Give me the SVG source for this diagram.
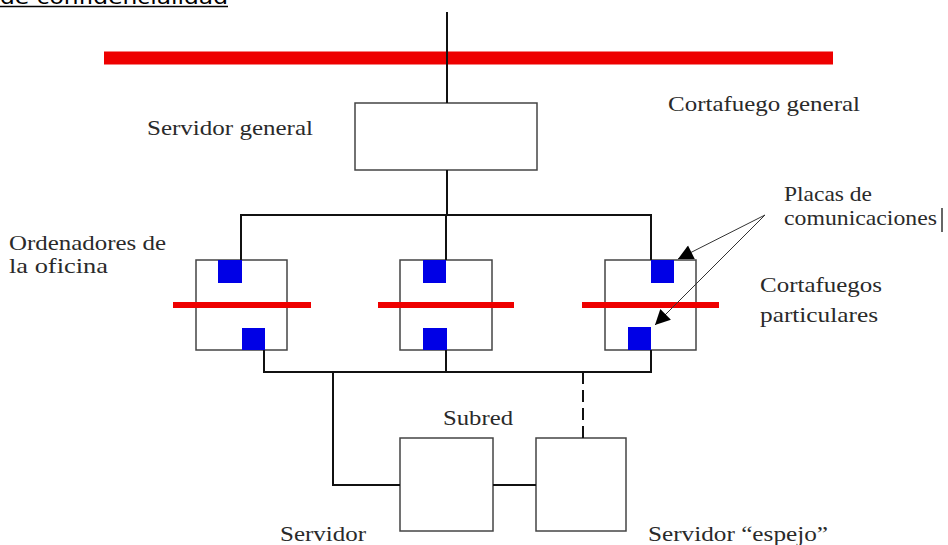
<svg xmlns="http://www.w3.org/2000/svg" width="948" height="545" viewBox="0 0 948 545">
<style>
.lbl{font-family:"Liberation Serif","Times New Roman",serif;font-size:22px;fill:#2a2a2a}
.box{fill:#fff;stroke:#444;stroke-width:1.5}
.wire{fill:none;stroke:#111;stroke-width:2}
.fw{stroke:#ee0000;stroke-linecap:butt}
.card{fill:#0000e6}
.ptr{fill:none;stroke:#333;stroke-width:1}
</style>
<defs>
<marker id="ah" viewBox="0 0 10 10" refX="10" refY="5" markerWidth="17" markerHeight="15" markerUnits="userSpaceOnUse" orient="auto">
<path d="M0,0 L10,5 L0,10 Z" fill="#000"/>
</marker>
</defs>
<rect width="948" height="545" fill="#fff"/>
<g id="title">
<text x="0" y="4" font-family="DejaVu Sans,Verdana,sans-serif" font-size="19" fill="#000" textLength="228" lengthAdjust="spacingAndGlyphs">de confidencialidad</text>
<line x1="0" y1="6.5" x2="228" y2="6.5" stroke="#000" stroke-width="1.5"/>
</g>
<g id="cortafuego-general">
<line class="fw" x1="104" y1="58" x2="833" y2="58" stroke-width="13"/>
<text class="lbl" x="668" y="111" textLength="192" lengthAdjust="spacingAndGlyphs">Cortafuego general</text>
</g>
<g id="servidor-general">
<rect class="box" x="355" y="103" width="182" height="67"/>
<text class="lbl" x="147" y="135" textLength="166" lengthAdjust="spacingAndGlyphs">Servidor general</text>
</g>
<g id="ordenador-1">
<rect class="box" x="196" y="260" width="91" height="90"/>
<line class="fw" x1="173" y1="305" x2="311" y2="305" stroke-width="6"/>
<rect class="card" x="218" y="260" width="24" height="23"/>
<rect class="card" x="242" y="328" width="23" height="22"/>
</g>
<g id="ordenador-2">
<rect class="box" x="400" y="260" width="92" height="90"/>
<line class="fw" x1="378" y1="305" x2="514" y2="305" stroke-width="6"/>
<rect class="card" x="423" y="260" width="23" height="23"/>
<rect class="card" x="423" y="328" width="24" height="22"/>
</g>
<g id="ordenador-3">
<rect class="box" x="605" y="260" width="91" height="90"/>
<line class="fw" x1="582" y1="305" x2="719" y2="305" stroke-width="6"/>
<rect class="card" x="651" y="260" width="23" height="23"/>
<rect class="card" x="628" y="327" width="23" height="23"/>
</g>
<g id="ordenadores-label">
<text class="lbl" x="9" y="250" textLength="157" lengthAdjust="spacingAndGlyphs">Ordenadores de</text>
<text class="lbl" x="9" y="273" textLength="99" lengthAdjust="spacingAndGlyphs">la oficina</text>
</g>
<g id="placas-label">
<text class="lbl" x="784" y="201" textLength="88" lengthAdjust="spacingAndGlyphs">Placas de</text>
<text class="lbl" x="784" y="225" textLength="153" lengthAdjust="spacingAndGlyphs">comunicaciones</text>
<line x1="942" y1="208" x2="942" y2="232" stroke="#333" stroke-width="1.5"/>
</g>
<g id="cortafuegos-particulares">
<text class="lbl" x="760" y="292" textLength="122" lengthAdjust="spacingAndGlyphs">Cortafuegos</text>
<text class="lbl" x="760" y="322" textLength="118" lengthAdjust="spacingAndGlyphs">particulares</text>
</g>
<g id="subred">
<text class="lbl" x="443" y="425" textLength="70" lengthAdjust="spacingAndGlyphs">Subred</text>
</g>
<g id="servidor">
<rect class="box" x="400" y="438" width="93" height="93"/>
<text class="lbl" x="280" y="541" textLength="86" lengthAdjust="spacingAndGlyphs">Servidor</text>
</g>
<g id="servidor-espejo">
<rect class="box" x="536" y="438" width="90" height="93"/>
<text class="lbl" x="648" y="541" textLength="180" lengthAdjust="spacingAndGlyphs">Servidor “espejo”</text>
</g>
<g id="connectors">
<line class="wire" x1="447" y1="12" x2="447" y2="103"/>
<line class="wire" x1="447" y1="170" x2="447" y2="215"/>
<polyline class="wire" points="241,260 241,215 651,215 651,260"/>
<line class="wire" x1="446" y1="215" x2="446" y2="260"/>
<polyline class="wire" points="264,350 264,372 651,372 651,350"/>
<line class="wire" x1="446" y1="350" x2="446" y2="372"/>
<polyline class="wire" points="333,372 333,485 400,485"/>
<line class="wire" x1="493" y1="485" x2="536" y2="485"/>
<line class="wire" x1="583" y1="372" x2="583" y2="438" stroke-dasharray="12 6"/>
<line class="ptr" x1="765" y1="215" x2="678" y2="259" marker-end="url(#ah)"/>
<line class="ptr" x1="765" y1="215" x2="655" y2="325" marker-end="url(#ah)"/>
</g>
</svg>
